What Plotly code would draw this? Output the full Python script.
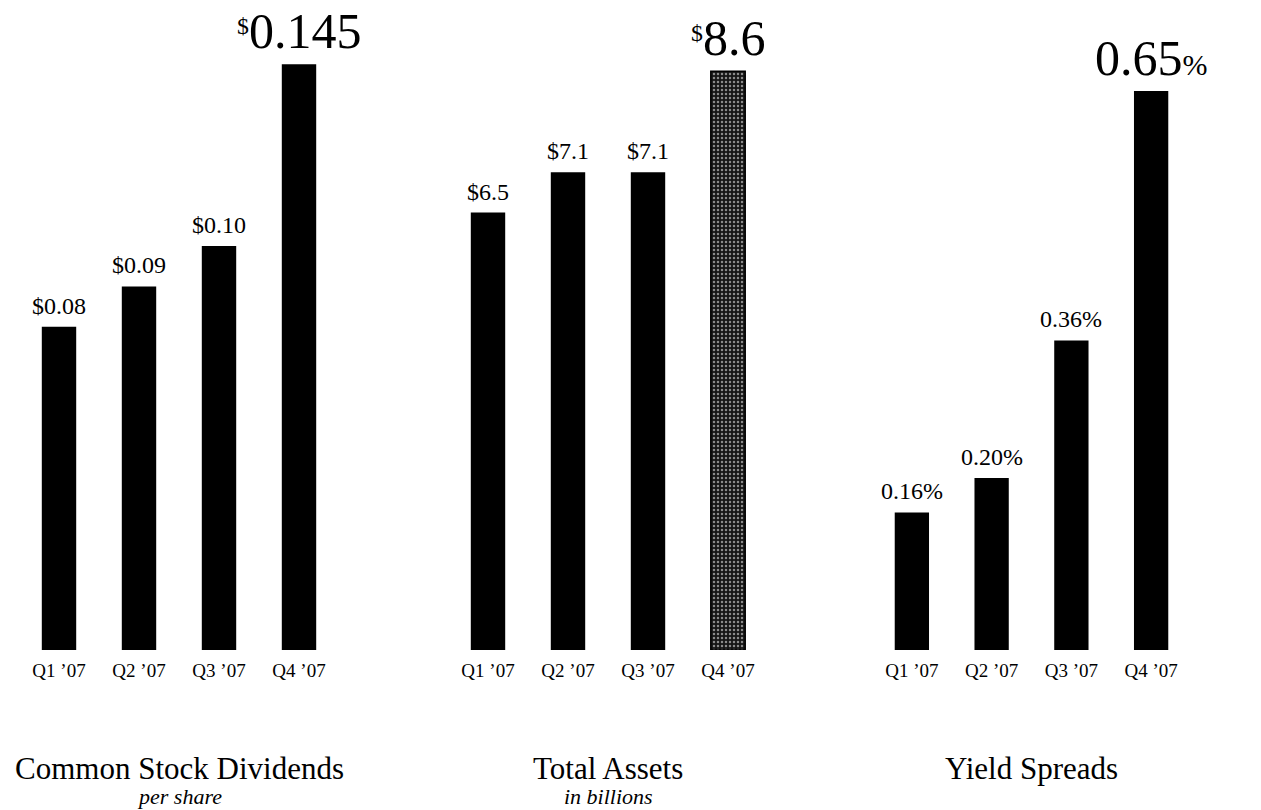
import plotly.graph_objects as go

# ---- data ----
categories = ["Q1 ’07", "Q2 ’07", "Q3 ’07", "Q4 ’07"]
dividends = [0.08, 0.09, 0.10, 0.145]
assets = [6.5, 7.1, 7.1, 8.6]
spreads = [0.16, 0.20, 0.36, 0.65]
titles = ["Common Stock Dividends", "Total Assets", "Yield Spreads"]
subtitles = ["per share", "in billions", ""]

W, H = 1261, 810
SERIF = "Liberation Serif"

def fmt_div(v):
    s = f"{v:.3f}".rstrip("0")
    if len(s.split(".")[1]) < 2:
        s = f"{v:.2f}"
    return s

SUP_DOLLAR = "<span style='font-size:34px'><sup>$</sup></span>"

def lab_div(v, big):
    s = fmt_div(v)
    return f"{SUP_DOLLAR}{s}" if big else f"${s}"

def lab_assets(v, big):
    return f"{SUP_DOLLAR}{v:.1f}" if big else f"${v:.1f}"

def lab_spread(v, big):
    if big:
        return f"{v:.2f}<span style='font-size:30px'>%</span>"
    return f"{v:.2f}%"

panels = [
    (dividends, lab_div, 0.1609, (19, 339)),
    (assets, lab_assets, 9.658, (448, 768)),
    (spreads, lab_spread, 0.7558, (872, 1191)),
]

fig = go.Figure()
annotations = []
y_bottom = (H - 650) / H

for i, (vals, labf, ytop, (x0, x1)) in enumerate(panels):
    n = i + 1
    xa = "x" if n == 1 else f"x{n}"
    ya = "y" if n == 1 else f"y{n}"
    idx = list(range(len(categories)))
    if n == 2:
        marker = dict(
            color=["#000", "#000", "#000", "#151515"],
            line=dict(color="#000", width=[0, 0, 0, 1.5]),
            pattern=dict(shape=["", "", "", "."], fgcolor="#c0c0c0",
                         size=4, solidity=0.3, fillmode="overlay"),
        )
    else:
        marker = dict(color="#000", line=dict(width=0))
    fig.add_trace(go.Bar(x=idx, y=vals, xaxis=xa, yaxis=ya, width=0.43,
                         marker=marker, showlegend=False, hoverinfo="skip"))
    for j, v in enumerate(vals):
        big = j == len(vals) - 1
        annotations.append(dict(
            x=j, y=v, xref=xa, yref=ya, text=labf(v, big), showarrow=False,
            yanchor="bottom", yshift=3 if big else 6,
            font=dict(family=SERIF, size=50 if big else 24, color="#000"),
        ))
    cx = ((x0 + x1) / 2) / W
    annotations.append(dict(x=cx, y=(H - 768) / H, xref="paper", yref="paper",
                            text=titles[i], showarrow=False, xanchor="center",
                            yanchor="middle",
                            font=dict(family=SERIF, size=31, color="#000")))
    if subtitles[i]:
        annotations.append(dict(x=cx, y=(H - 796) / H, xref="paper", yref="paper",
                                text=f"<i>{subtitles[i]}</i>", showarrow=False,
                                xanchor="center", yanchor="middle",
                                font=dict(family=SERIF, size=22, color="#000")))
    fig.update_layout(**{
        ("xaxis" if n == 1 else f"xaxis{n}"): dict(
            domain=[x0 / W, x1 / W], range=[-0.5, 3.5], anchor=ya,
            tickmode="array", tickvals=idx, ticktext=categories,
            showgrid=False, zeroline=False, showline=False,
            ticks="outside", ticklen=3, tickcolor="rgba(0,0,0,0)",
            tickfont=dict(family=SERIF, size=19, color="#000"), fixedrange=True),
        ("yaxis" if n == 1 else f"yaxis{n}"): dict(
            domain=[y_bottom, 1], range=[0, ytop], anchor=xa, visible=False,
            fixedrange=True),
    })

fig.update_layout(width=W, height=H, margin=dict(l=0, r=0, t=0, b=0),
                  paper_bgcolor="#fff", plot_bgcolor="#fff",
                  annotations=annotations, bargap=0.5)
fig.write_html("out.html", config={"displayModeBar": False})
